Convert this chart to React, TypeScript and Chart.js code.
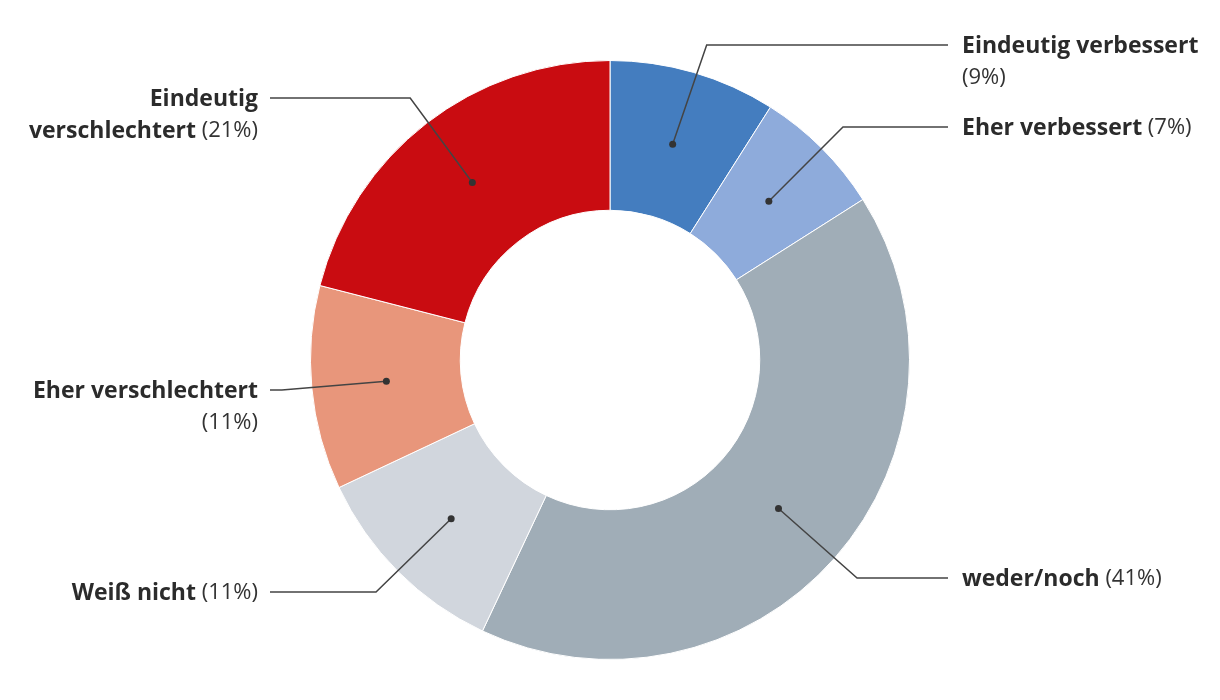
import React, { useEffect, useRef } from "react";
import { Chart, registerables } from "chart.js";

Chart.register(...registerables);

const categories = [
  "Eindeutig verbessert",
  "Eher verbessert",
  "weder/noch",
  "Weiß nicht",
  "Eher verschlechtert",
  "Eindeutig verschlechtert",
];
const values = [9, 7, 41, 11, 11, 21];
const colors = ["#447dbf", "#8eabdb", "#a0adb7", "#d1d6dd", "#e8967b", "#c90c11"];

// layout of the callout labels (not data)
const labelY = [45, 127, 578, 592, 390, 98];
// number of words on the first line (after which a line break occurs); -1 = single line
const breakAfter = [2, -1, -1, -1, 2, 1];

const FONT = "'Open Sans', Roboto, sans-serif";

const calloutPlugin = {
  id: "callouts",
  afterDraw(chart: any) {
    const ctx = chart.ctx;
    const meta = chart.getDatasetMeta(0);
    ctx.save();
    meta.data.forEach((arc: any, i: number) => {
      const p = arc.getProps(["x", "y", "startAngle", "endAngle", "innerRadius", "outerRadius"], true);
      const mid = (p.startAngle + p.endAngle) / 2;
      const rDot = (p.innerRadius + p.outerRadius) / 2;
      const dx0 = p.x + Math.cos(mid) * rDot;
      const dy0 = p.y + Math.sin(mid) * rDot;
      const right = Math.cos(mid) >= 0;
      const R = p.outerRadius + 30;
      const ly = labelY[i];
      const dy = ly - p.y;
      let ex;
      if (Math.abs(dy) < R) ex = p.x + (right ? 1 : -1) * Math.sqrt(R * R - dy * dy);
      else ex = p.x + Math.cos(mid) * R;
      const lineEndX = right ? p.x + 338 : p.x - 340;
      const textX = right ? p.x + 352 : p.x - 352;

      ctx.strokeStyle = "#444444";
      ctx.lineWidth = 1.5;
      ctx.beginPath();
      ctx.moveTo(dx0, dy0);
      ctx.lineTo(ex, ly);
      ctx.lineTo(lineEndX, ly);
      ctx.stroke();
      ctx.fillStyle = "#333333";
      ctx.beginPath();
      ctx.arc(dx0, dy0, 3.5, 0, Math.PI * 2);
      ctx.fill();

      // text
      const words = categories[i].split(" ");
      const pct = "(" + values[i] + "%)";
      const b = breakAfter[i];
      const lines: { bold: string; reg: string }[] = [];
      if (b < 0) {
        lines.push({ bold: words.join(" "), reg: pct });
      } else if (b >= words.length) {
        lines.push({ bold: words.join(" "), reg: "" });
        lines.push({ bold: "", reg: pct });
      } else {
        lines.push({ bold: words.slice(0, b).join(" "), reg: "" });
        lines.push({ bold: words.slice(b).join(" "), reg: pct });
      }
      const boldFont = "700 23px " + FONT;
      const regFont = "400 22px " + FONT;
      ctx.textBaseline = "middle";
      ctx.textAlign = "left";
      lines.forEach((ln, k) => {
        const y = ly + k * 32 + 1;
        ctx.font = boldFont;
        const bw = ln.bold ? ctx.measureText(ln.bold).width : 0;
        ctx.font = regFont;
        const space = ln.bold && ln.reg ? ctx.measureText(" ").width : 0;
        const rw = ln.reg ? ctx.measureText(ln.reg).width : 0;
        const total = bw + space + rw;
        let x = right ? textX : textX - total;
        if (ln.bold) {
          ctx.font = boldFont;
          ctx.fillStyle = "#2b2b2b";
          ctx.fillText(ln.bold, x, y);
          x += bw + space;
        }
        if (ln.reg) {
          ctx.font = regFont;
          ctx.fillStyle = "#333333";
          ctx.fillText(ln.reg, x, y);
        }
      });
    });
    ctx.restore();
  },
};

export default function App() {
  const ref = useRef<HTMLCanvasElement | null>(null);
  useEffect(() => {
    if (!ref.current) return;
    const chart = new Chart(ref.current, {
      type: "doughnut",
      data: {
        labels: categories,
        datasets: [
          {
            data: values,
            backgroundColor: colors,
            borderColor: "#ffffff",
            borderWidth: 1,
          },
        ],
      },
      options: {
        animation: false,
        responsive: false,
        cutout: "50%",
        layout: { padding: { top: 60, bottom: 40, left: 0, right: 0 } },
        plugins: {
          legend: { display: false },
          tooltip: { enabled: false },
        },
      },
      plugins: [calloutPlugin],
    });
    return () => chart.destroy();
  }, []);
  return (
    <div style={{ position: "fixed", left: 0, top: 0, width: 1220, height: 700, background: "#ffffff" }}>
      <canvas ref={ref} width={1220} height={700} style={{ width: 1220, height: 700, display: "block" }} />
    </div>
  );
}
